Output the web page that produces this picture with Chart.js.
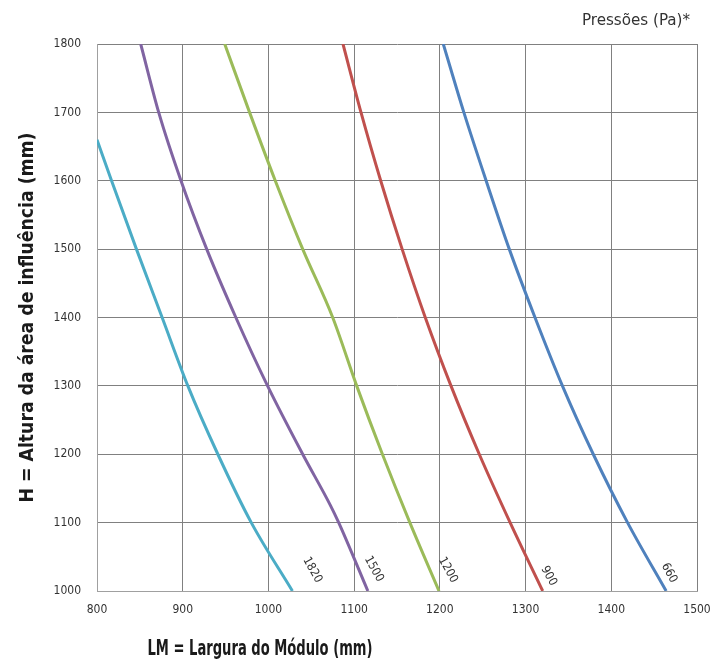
<!DOCTYPE html>
<html>
<head>
<meta charset="utf-8">
<script src="https://cdn.jsdelivr.net/npm/chart.js@4/dist/chart.umd.min.js"></script>
<style>
body{margin:0;background:#fff}
</style>
</head>
<body>
<canvas id="grafico" width="710" height="666"></canvas>
<script>
// pressões (Pa) de cada curva
var pressoes=['1820','1500','1200','900','660'];
var cores=['#4bacc6','#8064a2','#9bbb59','#c0504d','#4f81bd'];

// LM (mm) x H (mm)
var lm1820=[800,817,846,876,906,941,980,1028];
var h1820=[1660,1600,1500,1400,1300,1200,1100,1000];
var lm1500=[851,872,898,928,962,999,1040,1072,1082,1116];
var h1500=[1800,1700,1600,1500,1400,1300,1200,1126,1100,1000];
var lm1200=[949,978,1008,1040,1075,1103,1133,1165,1199];
var h1200=[1800,1700,1600,1500,1400,1300,1200,1100,1000];
var lm900=[1087,1108,1131,1156,1183,1213,1246,1282,1320];
var h900=[1800,1700,1600,1500,1400,1300,1200,1100,1000];
var lm660=[1204,1228,1254,1281,1311,1343,1379,1419,1464];
var h660=[1800,1700,1600,1500,1400,1300,1200,1100,1000];

var xMin=800, xMax=1500, xPasso=100;
var yMin=1000, yMax=1800, yPasso=100;

var tituloX='LM = Largura do Módulo (mm)';
var tituloY='H = Altura da área de influência (mm)';
var legenda='Pressões (Pa)*';

var fonte="'DejaVu Sans Condensed','DejaVu Sans',sans-serif";
// deslocamento (px) dos rótulos em relação ao fim da curva
var desloc=[[20,-21],[6,-22],[9,-21],[6,-15],[3,-18]];

function pontos(xs,ys){
  var r=[];
  for(var i=0;i<xs.length;i++) r.push({x:xs[i],y:ys[i]});
  return r;
}
var series=[pontos(lm1820,h1820),pontos(lm1500,h1500),pontos(lm1200,h1200),pontos(lm900,h900),pontos(lm660,h660)];

// escreve texto centrado, estreitado até a largura pedida
function textoEstreito(ctx,txt,x,y,largura,rot){
  ctx.save();
  ctx.translate(x,y);
  if(rot) ctx.rotate(rot);
  var w=ctx.measureText(txt).width;
  ctx.scale(largura/w,1);
  ctx.fillText(txt,0,0);
  ctx.restore();
}

var rotulos={
  id:'rotulos',
  afterDatasetsDraw:function(chart){
    var ctx=chart.ctx;
    var area=chart.chartArea;
    ctx.save();
    ctx.fillStyle='#333';
    ctx.font='12px '+fonte;
    ctx.textAlign='center';
    ctx.textBaseline='middle';
    chart.data.datasets.forEach(function(ds,i){
      var meta=chart.getDatasetMeta(i);
      var p=meta.data[meta.data.length-1];
      ctx.save();
      ctx.translate(p.x+desloc[i][0],p.y+desloc[i][1]);
      ctx.rotate(61*Math.PI/180);
      ctx.fillText(ds.label,0,0);
      ctx.restore();
    });
    ctx.fillStyle='#333';
    ctx.font='16px '+fonte;
    textoEstreito(ctx,legenda,690-54,21,108,0);

    ctx.fillStyle='#1a1a1a';
    ctx.font='bold 21px '+fonte;
    textoEstreito(ctx,tituloX,260,650,225,0);
    ctx.font='bold 20px '+fonte;
    textoEstreito(ctx,tituloY,28,(area.top+area.bottom)/2,370,-Math.PI/2);
    ctx.restore();
  }
};

var ctx=document.getElementById('grafico').getContext('2d');
var chart=new Chart(ctx,{
  type:'scatter',
  data:{
    datasets:series.map(function(d,i){
      return {
        label:pressoes[i],
        data:d,
        showLine:true,
        borderColor:cores[i],
        backgroundColor:cores[i],
        borderWidth:3,
        pointRadius:0,
        cubicInterpolationMode:'monotone'
      };
    })
  },
  options:{
    responsive:false,
    animation:false,
    layout:{padding:{top:44,right:13,left:0,bottom:0}},
    plugins:{legend:{display:false},tooltip:{enabled:false}},
    scales:{
      x:{
        type:'linear',min:xMin,max:xMax,
        ticks:{stepSize:xPasso,color:'#333',font:{family:fonte,size:12},padding:12,
          callback:function(v){return String(v);}},
        grid:{color:'#808080',drawTicks:false},
        border:{color:'#a0a0a0'},
        afterFit:function(s){s.height=75;s.paddingRight=13;s.paddingLeft=0;}
      },
      y:{
        type:'linear',min:yMin,max:yMax,
        ticks:{stepSize:yPasso,color:'#333',font:{family:fonte,size:12},padding:16,
          callback:function(v){return String(v);}},
        grid:{color:'#808080',drawTicks:false},
        border:{color:'#a0a0a0'},
        afterFit:function(s){s.width=97;}
      }
    }
  },
  plugins:[rotulos]
});
</script>
</body>
</html>
